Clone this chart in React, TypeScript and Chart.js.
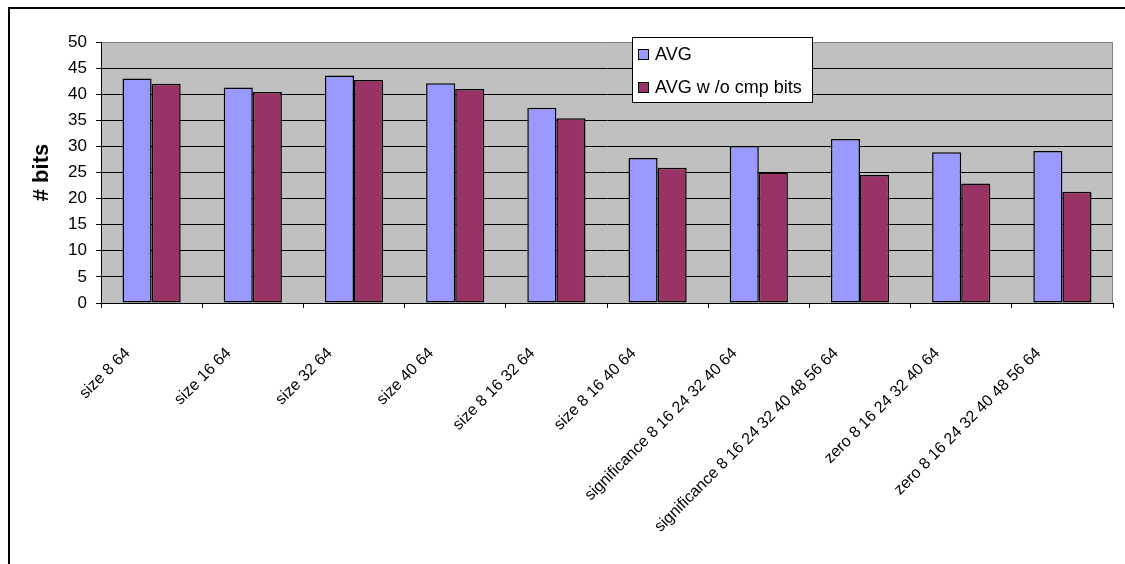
import React, { useEffect, useRef } from "react";
import { Chart, registerables } from "chart.js";

Chart.register(...registerables);

// Encoding schemes compared on the x axis
const categories = [
  "size 8 64",
  "size 16 64",
  "size 32 64",
  "size 40 64",
  "size 8 16 32 64",
  "size 8 16 40 64",
  "significance 8 16 24 32 40 64",
  "significance 8 16 24 32 40 48 56 64",
  "zero 8 16 24 32 40 64",
  "zero 8 16 24 32 40 48 56 64",
];

// Average number of bits per scheme
const avgBits = [43.0, 41.3, 43.6, 42.1, 37.4, 27.8, 30.1, 31.4, 28.9, 29.1];
// Average without compression bits
const avgNoCmpBits = [42.0, 40.4, 42.7, 41.0, 35.4, 25.9, 25.0, 24.5, 22.9, 21.3];

const seriesNames = ["AVG", "AVG w /o cmp bits"];
const yTicks = { min: 0, max: 50, step: 5 };

const FONT = "'Liberation Sans', Arial, Helvetica, sans-serif";

// Grey plot background with a darker frame on top/right
const plotFrame = {
  id: "plotFrame",
  beforeDraw(chart: any) {
    const { ctx, chartArea: a } = chart;
    ctx.save();
    ctx.fillStyle = "#C0C0C0";
    ctx.fillRect(a.left, a.top, a.right - a.left, a.bottom - a.top);
    ctx.restore();
  },
  beforeDatasetsDraw(chart: any) {
    const { ctx, chartArea: a } = chart;
    ctx.save();
    ctx.strokeStyle = "#808080";
    ctx.lineWidth = 1;
    ctx.beginPath();
    ctx.moveTo(Math.round(a.right) - 0.5, a.top);
    ctx.lineTo(Math.round(a.right) - 0.5, a.bottom);
    ctx.stroke();
    ctx.restore();
  },
};

// Boxed legend floating over the upper part of the plot
const floatingLegend = {
  id: "floatingLegend",
  afterDraw(chart: any) {
    const { ctx } = chart;
    const x = 632;
    const y = 37;
    const w = 181;
    const h = 66;
    ctx.save();
    ctx.fillStyle = "#FFFFFF";
    ctx.fillRect(x, y, w, h);
    ctx.strokeStyle = "#000000";
    ctx.lineWidth = 1;
    ctx.strokeRect(x + 0.5, y + 0.5, w - 1, h - 1);
    ctx.font = `18px ${FONT}`;
    ctx.textBaseline = "middle";
    ctx.textAlign = "left";
    chart.data.datasets.forEach((ds: any, i: number) => {
      const cy = y + 17 + i * 33;
      ctx.fillStyle = ds.backgroundColor;
      ctx.fillRect(x + 6, cy - 5, 11, 11);
      ctx.strokeStyle = "#000000";
      ctx.strokeRect(x + 6.5, cy - 4.5, 10, 10);
      ctx.fillStyle = "#000000";
      ctx.fillText(ds.label, x + 23, cy + 1);
    });
    ctx.restore();
  },
};

export default function App() {
  const canvasRef = useRef<HTMLCanvasElement | null>(null);

  useEffect(() => {
    const canvas = canvasRef.current;
    if (!canvas) return;
    const chart = new Chart(canvas, {
      type: "bar",
      data: {
        labels: categories,
        datasets: [
          {
            label: seriesNames[0],
            data: avgBits,
            backgroundColor: "#9999FF",
            borderColor: "#000000",
            borderWidth: 1.5,
            borderSkipped: false,
          },
          {
            label: seriesNames[1],
            data: avgNoCmpBits,
            backgroundColor: "#993366",
            borderColor: "#000000",
            borderWidth: 1.5,
            borderSkipped: false,
          },
        ],
      },
      options: {
        responsive: false,
        animation: false,
        devicePixelRatio: 1,
        datasets: {
          bar: { categoryPercentage: 0.575, barPercentage: 1.0 },
        },
        layout: { padding: { top: 42, right: 12, left: 0, bottom: 0 } },
        plugins: {
          legend: { display: false },
          tooltip: { enabled: false },
        },
        scales: {
          x: {
            offset: true,
            grid: {
              offset: true,
              drawOnChartArea: false,
              drawTicks: true,
              tickLength: 5,
              tickColor: "#000000",
            },
            border: { display: true, color: "#000000", width: 1 },
            ticks: {
              autoSkip: false,
              maxRotation: 45,
              minRotation: 45,
              padding: 36,
              labelOffset: -24,
              color: "#000000",
              font: { family: FONT, size: 16 },
            },
            afterFit(scale: any) {
              scale.height = 261;
            },
          },
          y: {
            min: yTicks.min,
            max: yTicks.max,
            grid: {
              color: (ctx: any) =>
                ctx.tick && ctx.tick.value === yTicks.max ? "#808080" : "#000000",
              lineWidth: 1,
              drawTicks: true,
              tickLength: 5,
              tickColor: "#000000",
            },
            border: { display: true, color: "#000000", width: 1 },
            ticks: {
              stepSize: yTicks.step,
              padding: 9,
              color: "#000000",
              font: { family: FONT, size: 17 },
            },
            title: {
              display: true,
              text: "# bits",
              color: "#000000",
              font: { family: FONT, size: 22, weight: "bold" },
              padding: { top: 29, bottom: 0 },
            },
            afterFit(scale: any) {
              scale.width = 101;
            },
          },
        },
      },
      plugins: [plotFrame, floatingLegend],
    });
    return () => chart.destroy();
  }, []);

  return (
    <div
      style={{
        position: "fixed",
        left: 0,
        top: 0,
        width: 1125,
        height: 564,
        overflow: "hidden",
        background: "#FFFFFF",
      }}
    >
      <div
        style={{
          position: "absolute",
          left: 8,
          top: 7,
          width: 1300,
          height: 800,
          borderLeft: "2px solid #000000",
          borderTop: "2px solid #000000",
        }}
      />
      <canvas
        ref={canvasRef}
        width={1125}
        height={564}
        style={{ position: "absolute", left: 0, top: 0, display: "block" }}
      />
    </div>
  );
}
